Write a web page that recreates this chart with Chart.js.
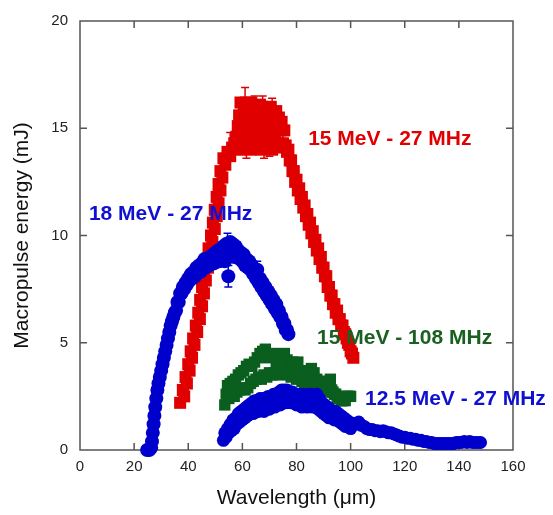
<!DOCTYPE html>
<html lang="en">
<head>
<meta charset="UTF-8">
<title>Macropulse energy vs wavelength</title>
<script src="https://cdn.jsdelivr.net/npm/chart.js"></script>
<style>
  body { margin: 0; background: #fff; }
  canvas { display: block; }
</style>
</head>
<body>
<canvas id="chart" width="553" height="515"></canvas>
<script>
// axis ticks
var xTicks = [0, 20, 40, 60, 80, 100, 120, 140, 160];
var yTicks = [0, 5, 10, 15, 20];

// series names
var seriesNames = ['18 MeV - 27 MHz', '12.5 MeV - 27 MHz', '15 MeV - 27 MHz', '15 MeV - 108 MHz'];

// [wavelength (um), energy (mJ)]
var mev15_27 = [
  // rising edge
  [37.0,2.2],[38.5,2.5],[38.0,2.8],[39.5,3.1],[39.0,3.4],[40.5,3.7],[40.0,4.0],[41.4,4.3],[40.9,4.6],[42.3,4.9],
  [41.8,5.2],[43.3,5.5],[42.8,5.8],[44.3,6.1],[43.7,6.4],[45.1,6.7],[44.4,7.0],[45.8,7.3],[45.1,7.6],[46.5,7.9],
  [45.9,8.2],[47.3,8.5],[46.7,8.8],[48.1,9.1],[47.5,9.4],[48.9,9.7],[48.4,10.0],[49.8,10.3],[49.1,10.6],[50.5,10.9],
  [49.8,11.2],[51.2,11.5],[50.5,11.8],[51.9,12.1],[51.2,12.4],[52.6,12.7],[51.9,13.0],[53.7,13.3],[53.0,13.6],[54.5,13.9],
  [55.5,13.7],[56.2,14.1],[57.0,14.3],[57.8,14.6],[58.3,15.1],[58.8,15.6],
  // plateau
  [59,14.0],[59.5,15.3],[60,14.6],[60.5,15.9],[61,14.3],[61.5,15.6],[62,14.9],[62.5,16.1],[63,14.0],[63.5,15.3],
  [64,14.6],[64.5,15.9],[65,14.3],[65.5,15.6],[66,14.9],[66.5,16.1],[67,14.0],[67.5,15.3],[68,14.6],[68.5,15.9],
  [69,14.3],[69.5,15.6],[70,14.9],[70.5,16.0],[71,14.0],[71.5,15.3],[72,14.6],[72.5,15.8],[73,14.3],[73.5,15.5],
  [74,14.9],[74.5,15.3],[75,14.3],[75.5,14.9],[76,14.2],
  [59.3,16.2],[60.3,15.0],[61.3,16.2],[62.3,14.4],[63.3,16.2],[64.3,15.2],[65.3,14.1],[66.3,15.4],[67.3,16.0],
  [68.3,15.1],[69.3,15.9],[70.3,14.5],[71.3,15.7],[72.3,15.1],[73.3,15.0],[74.3,14.1],
  // falling edge
  [76.5,13.9],[77,14.0],[77.5,13.5],[78,13.5],[78.5,13.0],[79,13.0],[79.5,12.5],[80,12.6],[80.5,12.1],[81,12.2],
  [81.5,11.7],[82,11.8],[82.5,11.3],[83,11.4],[83.5,10.9],[84,11.0],[84.5,10.5],[85,10.6],[85.5,10.1],[86,10.2],
  [86.5,9.7],[87,9.8],[87.5,9.3],[88,9.4],[88.5,8.9],[89,9.0],[89.5,8.5],[90,8.5],[90.5,8.1],[91,8.1],
  [91.5,7.6],[92,7.6],[92.5,7.2],[93,7.2],[93.5,6.8],[94,6.8],[94.5,6.4],[95,6.5],[95.5,6.1],[96,6.1],
  [96.5,5.8],[97,5.8],[97.5,5.5],[98,5.4],[98.5,5.2],[99,5.0],[99.5,4.9],[100,4.6],[100.5,4.5],[101,4.3]
];
// [wavelength, energy, error]
var mev15_27Err = [
  [61,16.3,0.6],[64.5,16.1,0.4],[63.5,15.9,0.5],[66,16.0,0.3],[67.5,16.2,0.3],[71,15.9,0.5],
  [61.5,14.1,0.5],[68,14.1,0.5],[70,14.3,0.6],[73.5,14.6,0.4],[75,14.8,0.5],
  [55.5,14.3,0.5],[52.5,13.2,0.4],[50.5,11.6,0.5],[48.5,10.0,0.5]
];

var mev18_27 = [
  [24.8,0.0],[25.6,0.0],[26.3,0.1],[26.6,0.4],[26.9,0.8],[27.2,1.2],[27.5,1.6],[27.8,2.0],[28.2,2.4],[28.6,2.8],
  [29.0,3.1],[29.5,3.4],[30.0,3.7],[30.5,4.0],[31,4.3],[31.5,4.6],[32,4.9],[32.5,5.2],[33,5.5],[33.5,5.8],
  [34,6.0],[34.5,6.2],[35,6.4],[35.5,6.5],[36,6.9],[36.5,6.9],[37,7.3],[37.5,7.3],[38,7.6],[38.5,7.5],[39,7.8],
  [39.5,7.7],[40,8.0],[40.5,7.9],[41,8.2],[41.5,8.0],[42,8.3],[42.5,8.1],[43,8.5],[43.5,8.3],[44,8.6],
  [44.5,8.3],[45,8.7],[45.5,8.5],[46,8.9],[46.5,8.5],[47,8.9],[47.5,8.6],[48,9.0],[48.5,8.7],[49,9.1],
  [49.5,8.7],[50,9.2],[50.5,8.8],[51,9.3],[51.5,8.8],[52,9.3],[52.5,8.9],[53,9.5],[53.5,8.8],[54,9.6],
  [54.5,9.6],[54.8,8.1],[55,9.2],[55.5,9.7],[56,9.1],[56.5,9.6],[57,9.0],[57.5,9.5],[58,9.0],[58.5,9.3],
  [59,8.9],[59.5,9.2],[60,8.8],[60.5,9.1],[61,8.6],[61.5,8.9],[62,8.5],[62.5,8.8],[63,8.4],[63.5,8.6],
  [64,8.2],[64.5,8.4],[65,8.0],[65.5,8.4],[66,7.8],[66.5,8.0],[67,7.6],[67.5,7.8],[68,7.4],[68.5,7.6],
  [69,7.2],[69.5,7.4],[70,7.0],[70.5,7.2],[71,6.8],[71.5,7.0],[72,6.6],[72.5,6.8],[73,6.4],[73.5,6.5],
  [74,6.2],[74.5,6.2],[75,5.9],[75.5,5.9],[76,5.6],[76.5,5.6],[77,5.4]
];
var mev18_27Err = [[54.5,9.6,0.5],[54.8,8.1,0.5],[65.5,8.4,0.4]];

var mev125_27 = [
  [53,0.45],[53.5,0.8],[54,0.6],[54.5,1.0],[55,0.8],[55.5,1.2],[56,0.9],[56.5,1.4],[57,1.0],[57.5,1.5],
  [58,1.2],[58.5,1.7],[59,1.3],[59.5,1.8],[60,1.4],[60.5,1.9],[61,1.5],[61.5,2.0],[62,1.6],[62.5,2.1],
  [63,1.7],[63.5,2.2],[64,1.7],[64.5,2.3],[65,1.8],[65.5,2.3],[66,1.8],[66.5,2.4],[67,1.9],[67.5,2.4],
  [68,1.8],[68.5,2.4],[69,2.0],[69.5,2.5],[70,1.9],[70.5,2.5],[71,2.1],[71.5,2.6],[72,2.0],[72.5,2.6],
  [73,2.2],[73.5,2.7],[74,2.1],[74.5,2.8],[75,2.3],[75.5,2.8],[76,2.2],[76.5,2.8],[77,2.4],[77.5,2.7],
  [78,2.2],[78.5,2.7],[79,2.3],[79.5,2.6],[80,2.1],[80.5,2.6],[81,2.2],[81.5,2.5],[82,2.0],[82.5,2.6],
  [83,2.1],[83.5,2.5],[84,2.0],[84.5,2.6],[85,2.1],[85.5,2.6],[86,2.0],[86.5,2.5],[87,2.1],[87.5,2.6],
  [88,1.9],[88.5,2.4],[89,1.8],[89.5,2.2],[90,1.7],[90.5,2.1],[91,1.6],[91.5,2.0],[92,1.5],[92.5,1.9],
  [93,1.5],[93.5,1.8],[94,1.4],[94.5,1.8],[95,1.4],[95.5,1.7],[96,1.3],[96.5,1.6],[97,1.2],[97.5,1.5],
  [98,1.1],[98.5,1.4],[99,1.1],[99.5,1.3],[100,1.0],
  [101,1.25],[102,1.2],[103,1.3],[104,1.15],[105,1.1],[106,1.0],[107,0.95],[108,0.95],[109,0.9],[110,0.9],
  [111,0.85],[112,0.9],[113,0.85],[114,0.8],[115,0.8],[116,0.75],[117,0.7],[118,0.65],[119,0.6],[120,0.6],
  [121,0.55],[122,0.55],[123,0.5],[124,0.5],[125,0.45],[126,0.45],[127,0.4],[128,0.4],[129,0.35],[130,0.35],
  [131,0.3],[132,0.3],[133,0.3],[134,0.3],[135,0.3],[136,0.3],[137,0.3],[138,0.3],[139,0.35],[140,0.35],
  [141,0.35],[142,0.4],[143,0.35],[144,0.4],[145,0.35],[146,0.35],[147,0.35],[148,0.35]
];

var mev15_108 = [
  [53.5,2.1],[54,2.6],[54.5,3.0],[55,2.4],[55.5,3.1],[56,2.6],[56.5,3.2],[57,2.5],[57.5,3.3],[58,2.7],
  [58.5,3.5],[59,2.8],[59.5,3.6],[60,2.9],[60.5,3.7],[61,2.8],[61.5,3.9],[62,2.9],[62.5,4.0],[63,3.1],
  [63.5,3.9],[64,3.2],[64.5,4.1],[65,3.3],[65.5,4.3],[66,3.4],[66.5,4.5],[67,3.3],[67.5,4.6],[68,3.5],
  [68.5,4.7],[69,3.4],[69.5,4.3],[70,3.6],[70.5,4.4],[71,3.5],[71.5,4.5],[72,3.6],[72.5,4.1],[73,3.5],
  [73.5,4.3],[74,3.7],[74.5,4.4],[75,3.6],[75.5,4.5],[76,3.7],[76.5,4.2],[77,3.5],[77.5,3.9],[78,3.4],
  [78.5,4.1],[79,3.5],[79.5,4.0],[80,3.3],[80.5,4.1],[81,3.4],[81.5,3.7],[82,3.2],[82.5,3.5],[83,3.1],
  [83.5,3.5],[84,3.3],[84.5,3.6],[85,3.2],[85.5,3.8],[86,3.3],[86.5,3.6],[87,3.0],[87.5,3.3],[88,2.9],
  [88.5,3.2],[89,2.9],[89.5,3.0],[90,2.7],[90.5,3.0],[91,2.8],[91.5,3.2],[92,3.0],[92.5,3.3],[93,2.8],
  [93.5,2.7],[94,2.6],[94.5,2.6],[95,2.4],[95.5,2.5],[96,2.4],[96.5,2.3],[97,2.3],[97.5,2.4],[98,2.3],
  [98.5,2.5],[99,2.5],[99.5,2.5],[100,2.5]
];

var RED = 'rgb(224,0,0)';
var BLUE = 'rgb(0,0,204)';
var GREEN = 'rgb(10,94,30)';

// label placement in data units
var seriesLabels = [
  { text: seriesNames[2], x: 84.3, y: 14.5, color: RED },
  { text: seriesNames[0], x: 3.3, y: 11.0, color: 'rgb(16,16,210)' },
  { text: seriesNames[3], x: 87.6, y: 5.23, color: 'rgb(26,96,32)' },
  { text: seriesNames[1], x: 105.3, y: 2.36, color: 'rgb(16,16,210)' }
];

function pts(list) {
  return list.map(function (p) { return { x: p[0], y: p[1] }; });
}

// error bars drawn right after their own dataset so stacking is kept
var errorBars = {
  id: 'errorBars',
  afterDatasetDraw: function (chart, args) {
    var ds = chart.data.datasets[args.index];
    if (!ds.errors) return;
    var x = chart.scales.x, y = chart.scales.y, ctx = chart.ctx;
    ctx.save();
    ctx.strokeStyle = ds.pointBackgroundColor;
    ctx.lineWidth = 1.5;
    ctx.beginPath();
    ds.errors.forEach(function (e) {
      var px = x.getPixelForValue(e[0]);
      var top = y.getPixelForValue(e[1] + e[2]);
      var bot = y.getPixelForValue(e[1] - e[2]);
      ctx.moveTo(px, top); ctx.lineTo(px, bot);
      ctx.moveTo(px - 4, top); ctx.lineTo(px + 4, top);
      ctx.moveTo(px - 4, bot); ctx.lineTo(px + 4, bot);
    });
    ctx.stroke();
    ctx.restore();
  }
};

// box with inward ticks on all four sides
var frame = {
  id: 'frame',
  beforeDatasetsDraw: function (chart) {
    var a = chart.chartArea, x = chart.scales.x, y = chart.scales.y, ctx = chart.ctx;
    ctx.save();
    ctx.strokeStyle = '#555';
    ctx.lineWidth = 1.5;
    ctx.strokeRect(a.left, a.top, a.right - a.left, a.bottom - a.top);
    ctx.beginPath();
    xTicks.slice(1, -1).forEach(function (v) {
      var px = x.getPixelForValue(v);
      ctx.moveTo(px, a.bottom); ctx.lineTo(px, a.bottom - 7);
      ctx.moveTo(px, a.top); ctx.lineTo(px, a.top + 7);
    });
    yTicks.slice(1, -1).forEach(function (v) {
      var py = y.getPixelForValue(v);
      ctx.moveTo(a.left, py); ctx.lineTo(a.left + 7, py);
      ctx.moveTo(a.right, py); ctx.lineTo(a.right - 7, py);
    });
    ctx.stroke();
    ctx.restore();
  }
};

var labelsPlugin = {
  id: 'seriesLabels',
  afterDraw: function (chart) {
    var x = chart.scales.x, y = chart.scales.y, ctx = chart.ctx;
    ctx.save();
    ctx.font = 'bold 21px "Liberation Sans", Arial, sans-serif';
    ctx.textBaseline = 'middle';
    ctx.textAlign = 'left';
    seriesLabels.forEach(function (l) {
      ctx.fillStyle = l.color;
      ctx.fillText(l.text, x.getPixelForValue(l.x), y.getPixelForValue(l.y));
    });
    ctx.restore();
  }
};

Chart.defaults.font.family = '"Liberation Sans", Arial, sans-serif';
Chart.defaults.color = '#222';

function series(label, data, color, style, radius, errors) {
  return {
    label: label,
    data: pts(data),
    showLine: false,
    pointStyle: style,
    pointRadius: radius,
    pointBorderWidth: 0,
    pointBackgroundColor: color,
    pointBorderColor: color,
    errors: errors,
    clip: false
  };
}

new Chart(document.getElementById('chart'), {
  type: 'scatter',
  data: {
    datasets: [
      series(seriesNames[0], mev18_27, BLUE, 'circle', 7, mev18_27Err),
      series(seriesNames[1], mev125_27, BLUE, 'circle', 6.5, null),
      series(seriesNames[2], mev15_27, RED, 'rect', 8.5, mev15_27Err),
      series(seriesNames[3], mev15_108, GREEN, 'rect', 8, null)
    ]
  },
  options: {
    responsive: false,
    animation: false,
    events: [],
    layout: { padding: { top: 18, right: 40, left: 0, bottom: 0 } },
    plugins: { legend: { display: false }, tooltip: { enabled: false } },
    scales: {
      x: {
        type: 'linear', min: 0, max: 160,
        afterBuildTicks: function (s) { s.ticks = xTicks.map(function (v) { return { value: v }; }); },
        afterFit: function (s) { s.height = 65; },
        grid: { display: false, drawTicks: false },
        border: { display: false },
        ticks: { padding: 8, font: { size: 15 }, color: '#222' },
        title: { display: true, text: 'Wavelength (\u03bcm)', font: { size: 21 }, color: '#111', padding: { bottom: 4 } }
      },
      y: {
        type: 'linear', min: 0, max: 20,
        afterBuildTicks: function (s) { s.ticks = yTicks.map(function (v) { return { value: v }; }); },
        afterFit: function (s) { s.width = 80; },
        grid: { display: false, drawTicks: false },
        border: { display: false },
        ticks: { padding: 12, font: { size: 15 }, color: '#222' },
        title: { display: true, text: 'Macropulse energy (mJ)', font: { size: 21 }, color: '#111', padding: { top: 10 } }
      }
    }
  },
  plugins: [frame, errorBars, labelsPlugin]
});
</script>
</body>
</html>
